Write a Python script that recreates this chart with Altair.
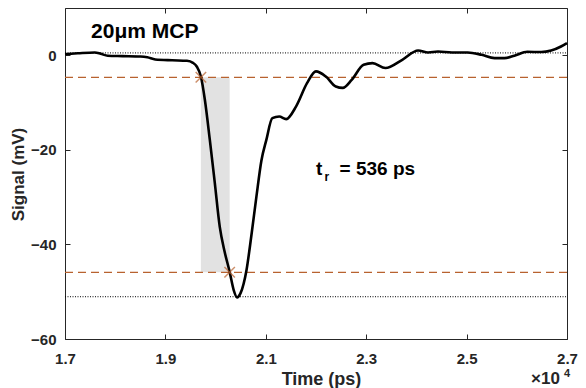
import altair as alt
import pandas as pd

# ---- data ----
time_ps = [17000, 17257, 17593, 17711, 17850, 18146, 18502, 18640, 18798, 19134,
           19430, 19549, 19628, 19707, 19786, 19885, 19984, 20083, 20181, 20280,
           20359, 20428, 20497, 20616, 20714, 20813, 20912, 21011, 21130, 21268,
           21406, 21604, 21821, 21999, 22197, 22394, 22533, 22711, 22948, 23126,
           23383, 23719, 24035, 24233, 24430, 24707, 25023, 25299, 25556, 25754,
           25952, 26209, 26486, 26684, 26881, 27000]
signal_mv = [0.25, 0.42, 0.59, 0.32, -0.1, -0.17, -0.25, -0.42, -0.89, -1.06,
             -1.16, -1.59, -2.43, -4.49, -9.4, -17.9, -27.0, -36.3, -41.6, -45.8,
             -49.6, -51.2, -50.3, -45.4, -38.0, -29.9, -22.3, -17.9, -13.3, -12.95,
             -13.5, -10.8, -5.9, -3.4, -4.5, -6.6, -6.9, -5.2, -2.0, -1.65,
             -2.7, -0.95, 1.0, 0.6, 0.8, 0.6, 0.6, 0.1, -0.6, -0.6,
             -0.1, 0.74, 0.68, 1.0, 1.86, 2.58]

baseline_mv = 0.5
peak_mv = -51.06
level10_mv = -4.66
level90_mv = -45.9
t10_ps = 19707
t90_ps = 20280

x_ticks = [17000, 19000, 21000, 23000, 25000, 27000]
y_ticks = [0, -20, -40, -60]
x_domain = [17000, 27000]
y_domain = [-60, 10]

title_text = "20μm MCP"
rise_text = "= 536 ps"

FONT = "Liberation Sans"
INK = "#262626"
ORANGE = "#b8622f"

W, H = 502, 331

xs = alt.Scale(domain=x_domain, nice=False, zero=False)
ys = alt.Scale(domain=y_domain, nice=False, zero=False)

main_x_axis = alt.Axis(
    orient="bottom", values=x_ticks, labelExpr="format(datum.value/10000,'.1f')",
    ticks=False, domain=False, grid=False, labelFlush=False, labelOverlap=False,
    labelFont=FONT, labelFontSize=15, labelFontWeight="bold", labelColor=INK,
    labelPadding=12, title="Time (ps)", titleFont=FONT, titleFontSize=18,
    titleFontWeight="bold", titleColor=INK, titleX=256, titleY=45,
    titleBaseline="alphabetic", titleAlign="center")
main_y_axis = alt.Axis(
    orient="left", values=y_ticks, format="d",
    ticks=False, domain=False, grid=False, labelFlush=False, labelOverlap=False,
    labelFont=FONT, labelFontSize=15, labelFontWeight="bold", labelColor=INK,
    labelPadding=9, title="Signal (mV)", titleFont=FONT, titleFontSize=17,
    titleFontWeight="bold", titleColor=INK, titleX=-47, titleY=166,
    titleAngle=270, titleBaseline="middle", titleAlign="center")


def tick_axis(orient, offset, values):
    return alt.Axis(orient=orient, offset=offset, values=values, labels=False,
                    domain=False, grid=False, ticks=True, tickSize=5,
                    tickColor=INK, tickWidth=1, title=None)


df = pd.DataFrame({"t": time_ps, "s": signal_mv})

rect_df = pd.DataFrame({"x": [t10_ps], "x2": [t90_ps], "y": [level10_mv], "y2": [level90_mv]})
rect = alt.Chart(rect_df).mark_rect(color="#e2e2e2").encode(
    x=alt.X("x:Q", scale=xs, axis=main_x_axis),
    x2="x2:Q",
    y=alt.Y("y:Q", scale=ys, axis=main_y_axis),
    y2="y2:Q",
)

dot_df = pd.DataFrame({"x": [x_domain[0]] * 2, "x2": [x_domain[1]] * 2,
                       "y": [baseline_mv, peak_mv]})
dotted = alt.Chart(dot_df).mark_rule(color="#000000", strokeWidth=1, strokeDash=[1, 1.5]).encode(
    x=alt.X("x:Q", scale=xs, axis=tick_axis("bottom", -H, x_ticks)),
    x2="x2:Q",
    y=alt.Y("y:Q", scale=ys, axis=tick_axis("left", -W, y_ticks)),
)

dash_df = pd.DataFrame({"x": [x_domain[0]] * 2, "x2": [x_domain[1]] * 2,
                        "y": [level10_mv, level90_mv]})
dashed = alt.Chart(dash_df).mark_rule(color=ORANGE, strokeWidth=1.3, strokeDash=[8, 5]).encode(
    x=alt.X("x:Q", scale=xs, axis=tick_axis("top", -H, x_ticks)),
    x2="x2:Q",
    y=alt.Y("y:Q", scale=ys, axis=tick_axis("right", -W, y_ticks)),
)

line = alt.Chart(df).mark_line(color="#000000", strokeWidth=2.6, interpolate="monotone").encode(
    x=alt.X("t:Q", scale=xs, axis=None),
    y=alt.Y("s:Q", scale=ys, axis=None),
)

cross_df = pd.DataFrame({"x": [t10_ps, t90_ps], "y": [level10_mv, level90_mv]})
crosses = alt.Chart(cross_df).mark_point(
    shape="M-1,-1L1,1M-1,1L1,-1", size=110, filled=False, strokeWidth=1.5, color=ORANGE
).encode(
    x=alt.X("x:Q", scale=xs, axis=None),
    y=alt.Y("y:Q", scale=ys, axis=None),
)

txt_df = pd.DataFrame({
    "x": [17520, 22000, 22170, 22470],
    "y": [3.64, -25.3, -26.6, -25.3],
    "label": [title_text, "t", "r", rise_text],
    "size": [21, 19, 12, 19],
})
texts = alt.Chart(txt_df).mark_text(
    font=FONT, fontWeight="bold", color="#000000", align="left", baseline="alphabetic"
).encode(
    x=alt.X("x:Q", scale=xs, axis=None),
    y=alt.Y("y:Q", scale=ys, axis=None),
    text="label:N",
    size=alt.Size("size:Q", scale=None, legend=None),
)

one = pd.DataFrame({"a": [0]})
exp_base = alt.Chart(one).mark_text(
    text="×10", font=FONT, fontWeight="bold", fontSize=17, color=INK,
    align="left", baseline="alphabetic"
).encode(x=alt.value(466), y=alt.value(376))
exp_sup = alt.Chart(one).mark_text(
    text="4", font=FONT, fontWeight="bold", fontSize=11, color=INK,
    align="left", baseline="alphabetic"
).encode(x=alt.value(499), y=alt.value(369))

chart = alt.layer(rect, dotted, dashed, line, crosses, texts, exp_base, exp_sup).resolve_axis(
    x="independent", y="independent"
).properties(
    width=W, height=H,
    autosize=alt.AutoSizeParams(type="none"),
    padding={"left": 57, "top": 0, "right": 11, "bottom": 49},
    background="white",
).configure_view(stroke=INK, strokeWidth=1)

chart.save("out.html", embed_options={"renderer": "svg", "actions": False})
